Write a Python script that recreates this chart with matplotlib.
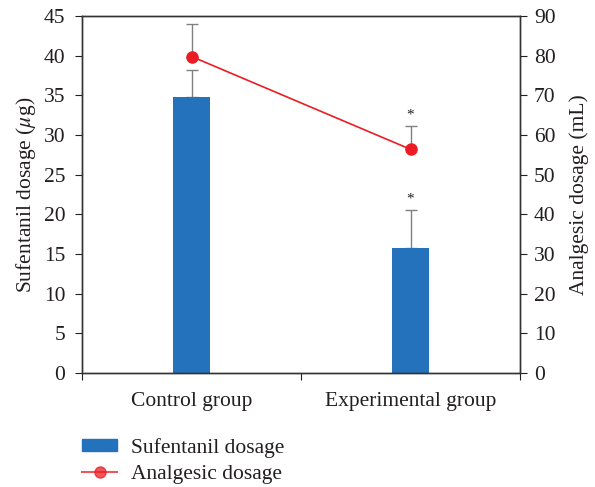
import matplotlib.pyplot as plt
from matplotlib.lines import Line2D
from matplotlib.patches import Patch

plt.rcParams['font.family'] = ['Liberation Serif', 'DejaVu Serif']
plt.rcParams['mathtext.fontset'] = 'stix'
plt.rcParams['text.color'] = '#231f20'
plt.rcParams['xtick.color'] = '#231f20'
plt.rcParams['ytick.color'] = '#231f20'
plt.rcParams['axes.labelcolor'] = '#231f20'

groups = ['Control group', 'Experimental group']
sufentanil = [34.8, 15.8]
sufentanil_err = [3.4, 4.75]
analgesic = [79.8, 56.4]
analgesic_err = [8.2, 5.9]

bar_color = '#2372bb'
line_color = '#ec1c24'
err_color = '#808080'
fs = 15.5

fig = plt.figure(figsize=(5.95, 4.87), dpi=100)
ax = fig.add_axes([0.138, 0.234, 0.736, 0.733])
x = list(range(len(groups)))

ax.bar(x, sufentanil, width=0.17, color=bar_color, zorder=2)
ax.errorbar(x, sufentanil, yerr=[[0, 0], sufentanil_err], fmt='none',
            ecolor=err_color, elinewidth=1, capsize=4, capthick=1, zorder=1)
ax.set_xlim(-0.5, 1.5)
ax.set_ylim(0, 45)
ax.set_yticks(range(0, 46, 5))
ax.set_xticks([-0.5, 0.5, 1.5])
ax.set_xticklabels([])
ax.set_xticks(x, minor=True)
ax.set_xticklabels(groups, minor=True)
ax.tick_params(axis='x', which='minor', length=0, pad=13.5, labelsize=fs)
ax.tick_params(axis='x', which='major', length=5, direction='out')
ax.tick_params(axis='y', labelsize=fs, length=5, pad=7)
ax.set_ylabel(r'Sufentanil dosage ($\mathit{\mu}$g)', fontsize=fs, labelpad=4)

ax2 = ax.twinx()
ax2.errorbar(x, analgesic, yerr=[[0, 0], analgesic_err], fmt='none',
             ecolor=err_color, elinewidth=1, capsize=4, capthick=1, zorder=1)
ax2.plot(x, analgesic, color=line_color, lw=1.2, marker='o', ms=8, zorder=3)
ax2.set_ylim(0, 90)
ax2.set_yticks(range(0, 91, 10))
ax2.tick_params(axis='y', labelsize=fs, length=5, pad=5)
ax2.set_ylabel('Analgesic dosage (mL)', fontsize=fs, labelpad=10)

# significance marks
ax.text(1, sufentanil[1] + sufentanil_err[1] + 0.6, '*', ha='center', va='bottom', fontsize=11)
ax2.text(1, analgesic[1] + analgesic_err[1] + 1.2, '*', ha='center', va='bottom', fontsize=11)

for a in (ax, ax2):
    for s in a.spines.values():
        s.set_color('#333333')
        s.set_linewidth(1)

handles = [Patch(color=bar_color, label='Sufentanil dosage'),
           Line2D([], [], color=line_color, alpha=0.75, marker='o', ms=8,
                  mfc=line_color, mec=line_color, lw=1.5, label='Analgesic dosage')]
fig.legend(handles=handles, loc='upper left', bbox_to_anchor=(0.138, 0.101),
           frameon=False, fontsize=fs, borderpad=0, borderaxespad=0,
           handlelength=1.63, handleheight=0.5, handletextpad=0.65,
           labelspacing=0.35)

fig.savefig('out.png', dpi=100)
